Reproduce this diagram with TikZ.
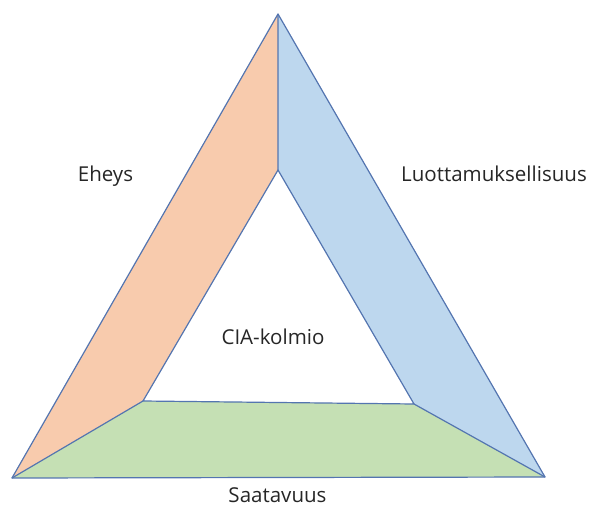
\documentclass[tikz,border=0pt]{standalone}
\usepackage{fontspec}
\setmainfont{Open Sans}
\definecolor{edge}{HTML}{5475B0}
\definecolor{fillO}{HTML}{F8CBAD}
\definecolor{fillB}{HTML}{BDD7EE}
\definecolor{fillG}{HTML}{C5E0B4}
\begin{document}
\begin{tikzpicture}[x=1bp,y=-1bp,
  face/.style={draw=edge,line width=1.2bp,line join=round},
  lbl/.style={anchor=base,inner sep=0pt,font=\fontsize{20.6}{24}\selectfont,text=black!85}]
\useasboundingbox (0,0) rectangle (590,507);
% outer corners
\coordinate (A) at (278,14);
\coordinate (L) at (12,478);
\coordinate (R) at (545,477);
% inner corners
\coordinate (a) at (278,170);
\coordinate (l) at (143,401);
\coordinate (r) at (414,404);
% the three sides of the frame
\fill[fillO] (A) -- (a) -- (l) -- (L) -- cycle;
\fill[fillB] (A) -- (R) -- (r) -- (a) -- cycle;
\fill[fillG] (L) -- (l) -- (r) -- (R) -- cycle;
\draw[face] (A) -- (L) -- (R) -- cycle;
\draw[face] (a) -- (l) -- (r) -- cycle;
\draw[face] (A) -- (a) (L) -- (l) (R) -- (r);
% labels
\node[lbl] (e) at (105.5,181.5) {Eheys};
\node[lbl] (c) at (494,181.5) {Luottamuksellisuus};
\node[lbl] (k) at (273,344) {CIA-kolmio};
\node[lbl] (s) at (277.5,502) {Saatavuus};
\end{tikzpicture}
\end{document}
